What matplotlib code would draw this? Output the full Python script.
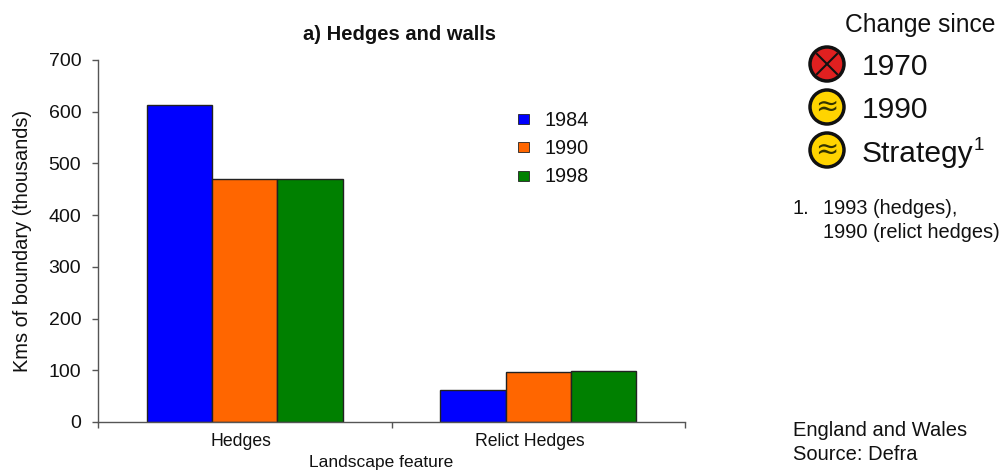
import matplotlib
matplotlib.use('Agg')
import matplotlib.pyplot as plt
from matplotlib.patches import Circle
import numpy as np

plt.rcParams['font.family'] = ['Liberation Sans', 'DejaVu Sans']

categories = ['Hedges', 'Relict Hedges']
years = ['1984', '1990', '1998']
vals_1984 = [613, 62]
vals_1990 = [469, 97]
vals_1998 = [469, 99]
bar_colors = ['#0000FF', '#FF6600', '#008000']
yticks = [0, 100, 200, 300, 400, 500, 600, 700]

change_labels = ['1970', '1990', 'Strategy']

W, H = 1004, 471
fig = plt.figure(figsize=(W / 100, H / 100), dpi=100)


def box(l, t, r, b):
    return [l / W, 1 - b / H, (r - l) / W, (b - t) / H]


# main chart
ax = fig.add_axes(box(98, 60, 685, 422))
x = np.arange(2)
w = 0.2225
series = [vals_1984, vals_1990, vals_1998]
for i, vals in enumerate(series):
    ax.bar(x + (i - 1) * w, vals, w, color=bar_colors[i], edgecolor='#222222', linewidth=1)

ax.set_xlim(-0.5, 1.5)
ax.set_ylim(0, 700)
ax.set_yticks(yticks)
ax.set_xticks([-0.5, 0.5, 1.5])
ax.set_xticklabels([])
ax.tick_params(axis='y', labelsize=14, length=4, width=1, color='#555555', pad=8, labelcolor='#111111')
ax.tick_params(axis='x', length=4, width=1, color='#555555')
for s in ['top', 'right']:
    ax.spines[s].set_visible(False)
for s in ['left', 'bottom']:
    ax.spines[s].set_color('#555555')
    ax.spines[s].set_linewidth(1)

ax.set_ylabel('Kms of boundary (thousands)', fontsize=14.4, color='#111111')
ax.yaxis.set_label_coords(-0.1125, 0.5)

# overlay for everything placed in pixel coordinates
ov = fig.add_axes([0, 0, 1, 1])
ov.set_xlim(0, W)
ov.set_ylim(H, 0)
ov.axis('off')
ov.patch.set_alpha(0)

ov.text(241, 442, categories[0], ha='center', va='center', fontsize=12.7, color='#111111')
ov.text(530, 442, categories[1], ha='center', va='center', fontsize=12.7, color='#111111')
ov.text(381, 463, 'Landscape feature', ha='center', va='center', fontsize=12.5, color='#111111')
ov.text(400, 35, 'a) Hedges and walls', ha='center', va='center', fontsize=14.5,
        fontweight='bold', color='#111111')

# year legend
for yr, col, yp in zip(years, bar_colors, [119, 147, 176]):
    ov.add_patch(plt.Rectangle((518, yp - 5), 11, 10, facecolor=col, edgecolor='#222222', linewidth=0.6))
    ov.text(545, yp + 1, yr, ha='left', va='center', fontsize=14.3, color='#111111')

# status icons
ov.text(920, 25, 'Change since', ha='center', va='center', fontsize=17.7, color='#111111')
icon_y = [64, 107, 150]
text_y = [67, 110, 154]
icon_col = ['#E02020', '#FFD400', '#FFD400']
for yp, ty, col, lab in zip(icon_y, text_y, icon_col, change_labels):
    ov.add_patch(Circle((827, yp), 17, facecolor=col, edgecolor='#111111', linewidth=2.5))
    ov.text(862, ty, lab, ha='left', va='center', fontsize=21.6, color='#111111')
ov.text(974, 145, '1', ha='left', va='center', fontsize=13.5, color='#111111')
ov.plot([817, 837], [54, 74], color='#111111', lw=1.5)
ov.plot([817, 837], [74, 54], color='#111111', lw=1.5)
for yp in icon_y[1:]:
    ov.text(827, yp, '\u2248', ha='center', va='center', fontsize=20, color='#333300',
            family='DejaVu Sans')

ov.text(793, 209, '1.', ha='left', va='center', fontsize=14.4, color='#111111')
ov.text(823, 209, '1993 (hedges),', ha='left', va='center', fontsize=14.4, color='#111111')
ov.text(823, 233, '1990 (relict hedges)', ha='left', va='center', fontsize=14.4, color='#111111')
ov.text(793, 431, 'England and Wales', ha='left', va='center', fontsize=14.5, color='#111111')
ov.text(793, 455, 'Source: Defra', ha='left', va='center', fontsize=14.5, color='#111111')

fig.savefig('out.png', dpi=100)
